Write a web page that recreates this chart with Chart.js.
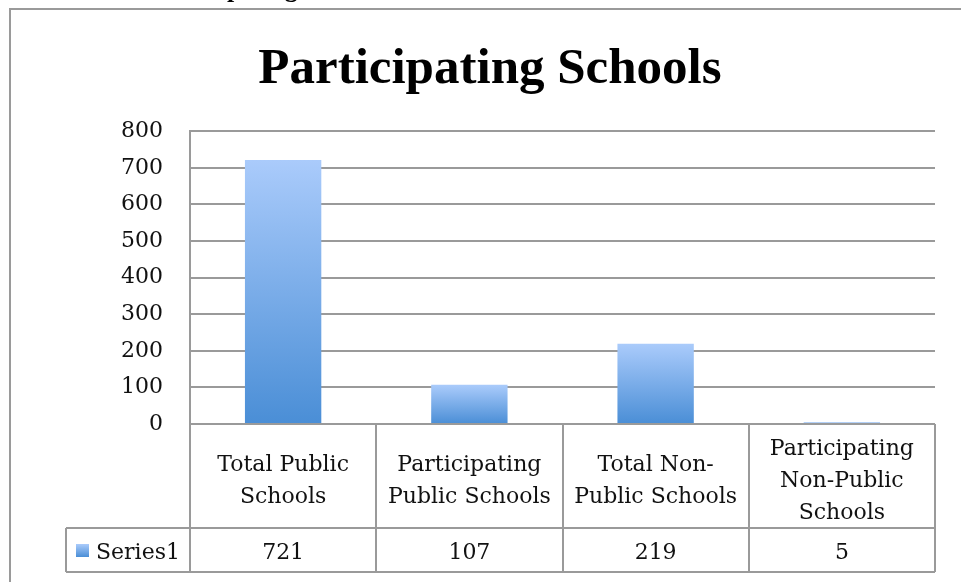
<!DOCTYPE html>
<html>
<head>
<meta charset="utf-8">
<title>Participating Schools</title>
<script src="https://cdn.jsdelivr.net/npm/chart.js@4/dist/chart.umd.min.js"></script>
<style>
  html, body { margin: 0; padding: 0; background: #fff; }
  #wrap { width: 961px; height: 582px; position: relative; overflow: hidden; }
</style>
</head>
<body>
<div id="wrap"><canvas id="chart" width="961" height="582"></canvas></div>
<script>
// Chart data
const categories = [
    ['Total Public', 'Schools'],
    ['Participating', 'Public Schools'],
    ['Total Non-', 'Public Schools'],
    ['Participating', 'Non-Public', 'Schools']
];
const seriesName = 'Series1';
const series1 = [721, 107, 219, 5];
const yMin = 0;
const yMax = 800;
const yStep = 100;

const LINE = '#9a9a9a';
const FONT = '"DejaVu Serif", serif';

/**
 * Vertical gradient for one bar, light at top, darker at the base
 */
function barGradient(ctx, top, bottom) {
    const g = ctx.createLinearGradient(0, top, 0, bottom);
    g.addColorStop(0, '#aacbfb');
    g.addColorStop(1, '#4a8ed6');
    return g;
}

// Outer frame and the clipped heading above it
const framePlugin = {
    id: 'frame',
    beforeDraw(chart) {
        const c = chart.ctx;
        c.save();
        c.fillStyle = '#000';
        c.font = 'bold 26px "Liberation Serif", serif';
        c.textBaseline = 'alphabetic';
        c.fillText('Participating Schools', 152, -3);
        c.strokeStyle = LINE;
        c.lineWidth = 2;
        c.strokeRect(10, 9, 1000, 700);
        c.restore();
    }
};

// Data table drawn under the plot area
const tablePlugin = {
    id: 'dataTable',
    afterDraw(chart) {
        const c = chart.ctx;
        const area = chart.chartArea;
        const x = chart.scales.x;
        const top = area.bottom;
        const rowSplit = top + 104;
        const bottom = rowSplit + 44;
        const legendLeft = 66;
        const n = categories.length;
        const cellW = (area.right - area.left) / n;

        c.save();
        c.strokeStyle = LINE;
        c.lineWidth = 2;

        // grid of the table
        c.beginPath();
        for (let i = 0; i <= n; i++) {
            const px = Math.round(area.left + i * cellW);
            c.moveTo(px, top);
            c.lineTo(px, bottom);
        }
        c.moveTo(area.left, top);
        c.lineTo(area.right, top);
        c.moveTo(legendLeft, rowSplit);
        c.lineTo(area.right, rowSplit);
        c.moveTo(legendLeft, bottom);
        c.lineTo(area.right, bottom);
        c.moveTo(legendLeft, rowSplit);
        c.lineTo(legendLeft, bottom);
        c.stroke();

        // category labels
        c.fillStyle = '#111';
        c.font = '22px ' + FONT;
        c.textAlign = 'center';
        c.textBaseline = 'middle';
        const lineH = 32;
        categories.forEach((lines, i) => {
            const cx = x.getPixelForValue(i);
            const midY = (top + rowSplit) / 2 + 5;
            const startY = midY - (lines.length - 1) * lineH / 2;
            lines.forEach((t, j) => c.fillText(t, cx, startY + j * lineH));
        });

        // values row
        const valY = (rowSplit + bottom) / 2 + 3;
        series1.forEach((v, i) => {
            c.fillText(String(v), x.getPixelForValue(i), valY);
        });

        // legend key and series name
        const keyX = legendLeft + 10;
        const keyY = valY - 9;
        c.fillStyle = barGradient(c, keyY, keyY + 13);
        c.fillRect(keyX, keyY, 13, 13);
        c.fillStyle = '#111';
        c.textAlign = 'left';
        c.fillText(seriesName, keyX + 20, valY);
        c.restore();
    }
};

const ctx = document.getElementById('chart').getContext('2d');

new Chart(ctx, {
    type: 'bar',
    data: {
        labels: categories,
        datasets: [{
            label: seriesName,
            data: series1,
            backgroundColor: (context) => {
                const chart = context.chart;
                const y = chart.scales.y;
                if (!y || !chart.chartArea) return '#7aa9e6';
                const v = context.raw || 0;
                return barGradient(chart.ctx, y.getPixelForValue(v), y.getPixelForValue(0));
            },
            borderWidth: 0,
            categoryPercentage: 1,
            barPercentage: 0.41
        }]
    },
    options: {
        responsive: false,
        animation: false,
        layout: {
            // left padding keeps the title centred where the original has it
            padding: { left: 45, right: 26, top: 0, bottom: 158 }
        },
        scales: {
            x: {
                display: false
            },
            y: {
                min: yMin,
                max: yMax,
                afterFit(scale) {
                    scale.width = 145;
                },
                border: { display: true, color: LINE, width: 2 },
                grid: {
                    color: LINE,
                    lineWidth: 2,
                    drawTicks: false
                },
                ticks: {
                    stepSize: yStep,
                    padding: 27,
                    color: '#111',
                    font: { family: FONT, size: 22 }
                }
            }
        },
        plugins: {
            legend: { display: false },
            tooltip: { enabled: false },
            title: {
                display: true,
                text: 'Participating Schools',
                color: '#000',
                font: { family: '"Liberation Serif", serif', size: 51, weight: 'bold', lineHeight: 1.2 },
                padding: { top: 39, bottom: 31 }
            }
        }
    },
    plugins: [framePlugin, tablePlugin]
});
</script>
</body>
</html>
